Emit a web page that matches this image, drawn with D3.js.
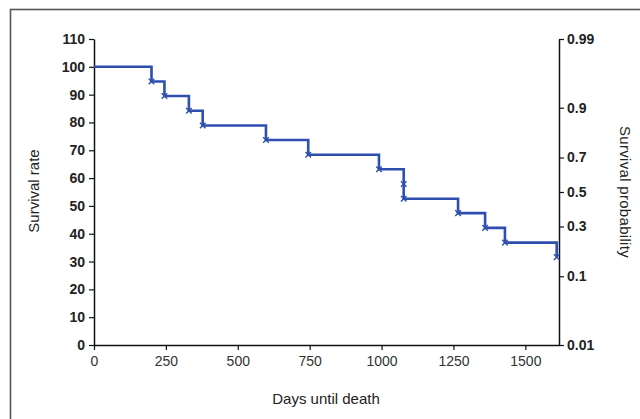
<!DOCTYPE html>
<html><head><meta charset="utf-8">
<script src="https://cdn.jsdelivr.net/npm/d3@7"></script>
<style>
html,body{margin:0;padding:0;background:#fff;}
svg{display:block;font-family:"Liberation Sans",Arial,sans-serif;}
</style></head>
<body>
<svg id="chart" width="640" height="419"></svg>
<script>
// Data: Kaplan-Meier steps (days, survival %)
const days     = [0, 200, 245, 330, 378, 598, 745, 991, 1077, 1077, 1266, 1360, 1429, 1609];
const survival = [100, 94.7, 89.5, 84.2, 78.9, 73.7, 68.4, 63.2, 57.9, 52.6, 47.4, 42.1, 36.8, 31.6];
const xTicks = [0, 250, 500, 750, 1000, 1250, 1500];
const yTicks = [0, 10, 20, 30, 40, 50, 60, 70, 80, 90, 100, 110];
const probTicks = [0.01, 0.1, 0.3, 0.5, 0.7, 0.9, 0.99];
const probLabels = ["0.01", "0.1", "0.3", "0.5", "0.7", "0.9", "0.99"];

// inverse normal CDF (Acklam)
function probit(p){
  const a=[-3.969683028665376e+01,2.209460984245205e+02,-2.759285104469687e+02,1.383577518672690e+02,-3.066479806614716e+01,2.506628277459239e+00];
  const b=[-5.447609879822406e+01,1.615858368580409e+02,-1.556989798598866e+02,6.680131188771972e+01,-1.328068155288572e+01];
  const c=[-7.784894002430293e-03,-3.223964580411365e-01,-2.400758277161838e+00,-2.549732539343734e+00,4.374664141464968e+00,2.938163982698783e+00];
  const d=[7.784695709041462e-03,3.224671290700398e-01,2.445134137142996e+00,3.754408661907416e+00];
  const pl=0.02425, ph=1-pl; let q,r;
  if(p<pl){q=Math.sqrt(-2*Math.log(p));return (((((c[0]*q+c[1])*q+c[2])*q+c[3])*q+c[4])*q+c[5])/((((d[0]*q+d[1])*q+d[2])*q+d[3])*q+1);}
  if(p<=ph){q=p-0.5;r=q*q;return (((((a[0]*r+a[1])*r+a[2])*r+a[3])*r+a[4])*r+a[5])*q/(((((b[0]*r+b[1])*r+b[2])*r+b[3])*r+b[4])*r+1);}
  q=Math.sqrt(-2*Math.log(1-p));return -(((((c[0]*q+c[1])*q+c[2])*q+c[3])*q+c[4])*q+c[5])/((((d[0]*q+d[1])*q+d[2])*q+d[3])*q+1);
}

const svg = d3.select("#chart");
const L=94, R=559, T=39, B=345;

// frame
svg.append("rect").attr("x",10.5).attr("y",9.5).attr("width",640).attr("height",420)
  .attr("fill","none").attr("stroke","#555").attr("stroke-width",1.6);

const x = d3.scaleLinear().domain([0,1617]).range([L,R]);
const y = d3.scaleLinear().domain([0,110]).range([B,T]);
const yR = d3.scaleLinear().domain([probit(0.01), probit(0.99)]).range([B,T]);

// axes
const gx = svg.append("g").attr("transform",`translate(0,${B})`)
  .call(d3.axisBottom(x).tickValues(xTicks).tickSize(5).tickSizeOuter(0).tickFormat(d3.format("d")));
gx.selectAll("text").attr("font-size",14).attr("fill","#333").attr("dy","0.95em");

const gy = svg.append("g").attr("transform",`translate(${L},0)`)
  .call(d3.axisLeft(y).tickValues(yTicks).tickSize(5).tickSizeOuter(0));
gy.selectAll("text").attr("font-size",14).attr("font-weight","bold").attr("fill","#222").attr("dx","-1");

const gr = svg.append("g").attr("transform",`translate(${R},0)`)
  .call(d3.axisRight(yR).tickValues(probTicks.map(probit)).tickSize(5).tickSizeOuter(0)
    .tickFormat((d,i)=>probLabels[i]));
gr.selectAll("text").attr("font-size",14).attr("font-weight","bold").attr("fill","#222");

[gx,gy,gr].forEach(g=>{
  g.select(".domain").attr("stroke","#111").attr("stroke-width",1.5);
  g.selectAll(".tick line").attr("stroke","#111").attr("stroke-width",1.2);
});

// step line
const pts = days.map((d,i)=>[d, survival[i]]);
const line = d3.line().x(d=>x(d[0])).y(d=>y(d[1])).curve(d3.curveStepAfter);
svg.append("path").datum(pts).attr("d",line).attr("fill","none")
  .attr("stroke","#2f4fae").attr("stroke-width",2.6).attr("stroke-linejoin","miter");

// markers
const sym = d3.symbol().type(d3.symbolX).size(22);
svg.append("g").selectAll("path").data(pts.slice(1)).join("path")
  .attr("transform",d=>`translate(${x(d[0])},${y(d[1])})`)
  .attr("d",sym).attr("fill","none").attr("stroke","#2f4fae").attr("stroke-width",1.4);

// titles
svg.append("text").attr("x",326).attr("y",404).attr("text-anchor","middle")
  .attr("font-size",15).attr("fill","#222").text("Days until death");
svg.append("text").attr("transform","translate(39,191) rotate(-90)").attr("text-anchor","middle")
  .attr("font-size",15).attr("fill","#222").text("Survival rate");
svg.append("text").attr("transform","translate(620,192) rotate(90)").attr("text-anchor","middle")
  .attr("font-size",15).attr("letter-spacing","0.3").attr("fill","#222").text("Survival probability");
</script>
</body></html>
